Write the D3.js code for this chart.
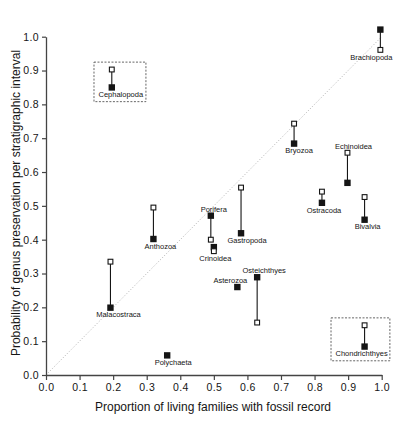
<!DOCTYPE html>
<html>
<head>
<meta charset="utf-8">
<script src="https://cdn.jsdelivr.net/npm/d3@7"></script>
<style>
  body { margin: 0; background: #fff; }
  svg { display: block; font-family: 'Liberation Sans', Arial, sans-serif; }
</style>
</head>
<body>
<svg id="chart" width="399" height="421"></svg>
<script>
// taxa, x = proportion of living families with fossil record
const taxa = [
  'Cephalopoda', 'Brachiopoda', 'Bryozoa', 'Echinoidea', 'Ostracoda',
  'Bivalvia', 'Porifera', 'Gastropoda', 'Crinoidea', 'Anthozoa',
  'Asterozoa', 'Osteichthyes', 'Malacostraca', 'Polychaeta', 'Chondrichthyes',
];
const livingProportion = [
  0.196, 0.996, 0.739, 0.898, 0.822,
  0.949, 0.491, 0.581, 0.500, 0.320,
  0.570, 0.629, 0.192, 0.361, 0.949,
];
// filled squares
const preservationFilled = [
  0.850, 1.021, 0.684, 0.568, 0.509,
  0.459, 0.471, 0.419, 0.378, 0.402,
  0.260, 0.289, 0.199, 0.058, 0.084,
];
// open squares (null = not shown)
const preservationOpen = [
  0.903, 0.961, 0.743, 0.657, 0.542,
  0.526, 0.400, 0.554, 0.366, 0.495,
  null, 0.155, 0.335, null, 0.147,
];
const boxedTaxa = ['Cephalopoda', 'Chondrichthyes'];
const xTicks = [0, 0.1, 0.2, 0.3, 0.4, 0.5, 0.6, 0.7, 0.8, 0.9, 1.0];
const yTicks = [0, 0.1, 0.2, 0.3, 0.4, 0.5, 0.6, 0.7, 0.8, 0.9, 1.0];

// label placement: side of the marker pair + horizontal shift
const labelPlacement = {
  Cephalopoda: ['below', 9], Brachiopoda: ['below', -9], Bryozoa: ['below', 5],
  Echinoidea: ['above', 6], Ostracoda: ['below', 2], Bivalvia: ['below', 3],
  Porifera: ['above', 3], Gastropoda: ['below', 6], Crinoidea: ['below', 1.5],
  Anthozoa: ['below', 7], Asterozoa: ['above', -7], Osteichthyes: ['above', 7],
  Malacostraca: ['below', 8], Polychaeta: ['below', 6], Chondrichthyes: ['below', -3],
};

const INK = '#151515';
const AXIS = '#444';

function drawChart(element) {
  const svg = d3.select(element);
  svg.selectAll('*').remove();

  const xScale = d3.scaleLinear().domain([0, 1]).range([46, 381.7]);
  const yScale = d3.scaleLinear().domain([0, 1]).range([375, 36.7]);

  const data = taxa.map((name, i) => ({
    name,
    x: livingProportion[i],
    filled: preservationFilled[i],
    open: preservationOpen[i],
  }));

  function drawAxes() {
    const xAxis = svg.append('g')
      .attr('transform', `translate(0, ${yScale(0)})`)
      .call(d3.axisBottom(xScale).tickValues(xTicks)
        .tickFormat(d3.format('.1f')).tickSize(5).tickSizeOuter(0).tickPadding(4));
    const yAxis = svg.append('g')
      .attr('transform', `translate(${xScale(0)}, 0)`)
      .call(d3.axisLeft(yScale).tickValues(yTicks)
        .tickFormat(d3.format('.1f')).tickSize(4).tickSizeOuter(0).tickPadding(3));

    [xAxis, yAxis].forEach((axis) => {
      axis.select('.domain').attr('stroke', AXIS).attr('stroke-width', 1.3);
      axis.selectAll('.tick line').attr('stroke', AXIS).attr('stroke-width', 1.2);
      axis.selectAll('.tick text')
        .attr('fill', INK)
        .style('font-size', '10.5px')
        .style('letter-spacing', '0.4px')
        .style('font-family', "'Liberation Sans', Arial, sans-serif");
    });

    svg.append('text')
      .attr('x', 213)
      .attr('y', 411)
      .attr('text-anchor', 'middle')
      .attr('fill', INK)
      .style('font-size', '12px')
      .text('Proportion of living families with fossil record');

    svg.append('text')
      .attr('transform', 'translate(20, 203) rotate(-90)')
      .attr('text-anchor', 'middle')
      .attr('fill', INK)
      .style('font-size', '12px')
      .text('Probability of genus preservation per stratigraphic interval');
  }

  function drawDiagonal() {
    svg.append('line')
      .attr('x1', xScale(0)).attr('y1', yScale(0))
      .attr('x2', xScale(1)).attr('y2', yScale(1))
      .attr('stroke', '#9a9a9a')
      .attr('stroke-width', 0.8)
      .attr('stroke-dasharray', '1,2');
  }

  function drawTaxa() {
    const groups = svg.append('g')
      .selectAll('g')
      .data(data)
      .join('g')
      .attr('class', (d) => 'taxon taxon-' + d.name);

    groups.filter((d) => d.open !== null)
      .append('line')
      .attr('x1', (d) => xScale(d.x)).attr('x2', (d) => xScale(d.x))
      .attr('y1', (d) => yScale(d.open)).attr('y2', (d) => yScale(d.filled))
      .attr('stroke', INK)
      .attr('stroke-width', 1.1);

    groups.append('rect')
      .attr('x', (d) => xScale(d.x) - 3.2)
      .attr('y', (d) => yScale(d.filled) - 3.2)
      .attr('width', 6.4)
      .attr('height', 6.4)
      .attr('fill', INK);

    groups.filter((d) => d.open !== null)
      .append('rect')
      .attr('x', (d) => xScale(d.x) - 2.4)
      .attr('y', (d) => yScale(d.open) - 2.4)
      .attr('width', 4.8)
      .attr('height', 4.8)
      .attr('fill', '#fff')
      .attr('stroke', INK)
      .attr('stroke-width', 1.1);

    groups.append('text')
      .attr('x', (d) => xScale(d.x) + labelPlacement[d.name][1])
      .attr('y', (d) => {
        const vals = [d.filled, d.open].filter((v) => v !== null).map(yScale);
        return labelPlacement[d.name][0] === 'below'
          ? d3.max(vals) + 7 + 2.7
          : d3.min(vals) - 6.5 + 2.7;
      })
      .attr('text-anchor', 'middle')
      .attr('fill', INK)
      .style('font-size', '7.5px')
      .text((d) => d.name);

    groups.filter((d) => boxedTaxa.includes(d.name))
      .each(function () {
        const b = this.getBBox();
        d3.select(this).append('rect')
          .attr('x', b.x - 4.5)
          .attr('y', b.y - 5)
          .attr('width', b.width + 6.5)
          .attr('height', b.height + 7.5)
          .attr('fill', 'none')
          .attr('stroke', '#555')
          .attr('stroke-width', 0.9)
          .attr('stroke-dasharray', '2,1.5');
      });
  }

  drawDiagonal();
  drawAxes();
  drawTaxa();
}

drawChart(document.getElementById('chart'));
</script>
</body>
</html>
